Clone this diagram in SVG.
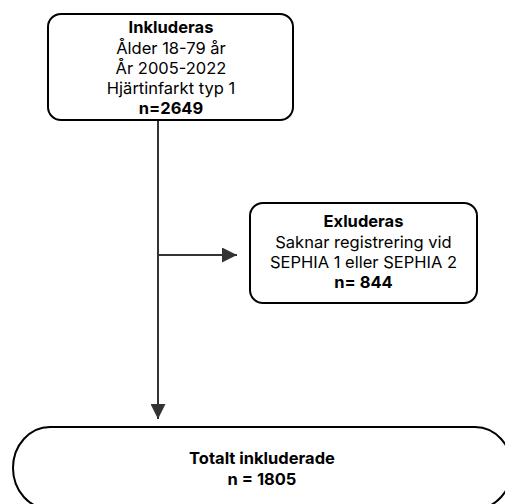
<svg xmlns="http://www.w3.org/2000/svg" width="505" height="504" viewBox="0 0 505 504">
<defs>
<style>
.box{fill:#fff;stroke:#000;stroke-width:2}
.t{font-family:Inter,"Liberation Sans",sans-serif;font-size:16.5px;fill:#000;text-anchor:middle}
.b{font-weight:700}
.c{stroke:#333;stroke-width:2;fill:none}
</style>
<marker id="ah" viewBox="0 0 10 10" refX="10" refY="5" markerWidth="15" markerHeight="15" markerUnits="userSpaceOnUse" orient="auto">
<path d="M0,0 L10,5 L0,10 Z" fill="#333"/>
</marker>
</defs>
<rect width="505" height="504" fill="#fff"/>
<g id="connectors">
<line class="c" x1="158" y1="121" x2="158" y2="419" marker-end="url(#ah)"/>
<line class="c" x1="158" y1="255" x2="237" y2="255" marker-end="url(#ah)"/>
</g>
<g id="inkluderas">
<rect class="box" x="48" y="14" width="245" height="106" rx="13"/>
<text class="t b" x="171" y="33">Inkluderas</text>
<text class="t" x="171" y="54">Ålder 18-79 år</text>
<text class="t" x="171" y="74">År 2005-2022</text>
<text class="t" x="171" y="94">Hjärtinfarkt typ 1</text>
<text class="t b" x="171" y="114">n=2649</text>
</g>
<g id="exluderas">
<rect class="box" x="250" y="203" width="227" height="100" rx="13"/>
<text class="t b" x="363.5" y="227">Exluderas</text>
<text class="t" x="363.5" y="248">Saknar registrering vid</text>
<text class="t" x="363.5" y="268">SEPHIA 1 eller SEPHIA 2</text>
<text class="t b" x="363.5" y="288">n= 844</text>
</g>
<g id="totalt">
<rect class="box" x="13" y="427" width="499" height="82" rx="37" ry="41"/>
<text class="t b" x="262" y="464">Totalt inkluderade</text>
<text class="t b" x="262" y="485">n = 1805</text>
</g>
</svg>
